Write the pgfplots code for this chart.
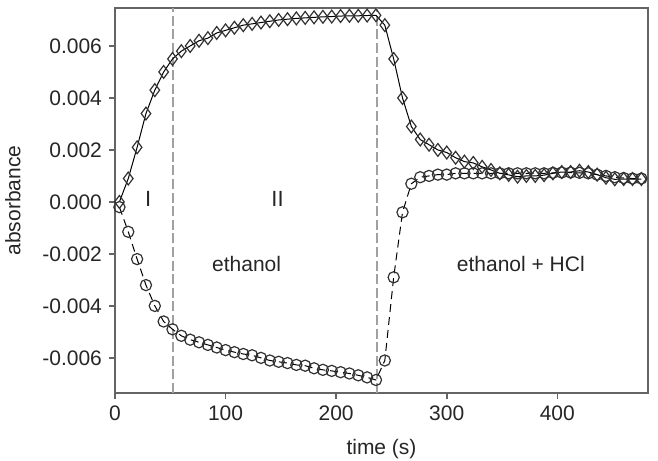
\documentclass[border=0pt]{standalone}
\usepackage{pgfplots}
\pgfplotsset{compat=1.18}
\usepackage{fontspec}
\setmainfont{Liberation Sans}
\definecolor{axgray}{RGB}{100,100,100}
\definecolor{vgray}{RGB}{160,160,160}
\definecolor{mk}{RGB}{50,50,50}
\begin{document}
\begin{tikzpicture}
\begin{axis}[
  width=266.5pt, height=192.5pt, scale only axis,
  xmin=0, xmax=482, ymin=-0.00735, ymax=0.00746,
  xtick={0,100,200,300,400},
  ytick={-0.006,-0.004,-0.002,0,0.002,0.004,0.006},
  scaled y ticks=false,
  yticklabel style={/pgf/number format/.cd, fixed, fixed zerofill, precision=3, assume math mode=true},
  xticklabel style={/pgf/number format/assume math mode=true},
  tick align=outside, tick pos=left,
  major tick length=3pt,
  axis line style={axgray, line width=0.8pt},
  tick style={axgray, line width=0.8pt},
  ticklabel style={font=\fontsize{10.5}{12}\selectfont, text=black!85},
  xlabel={time (s)}, ylabel={absorbance},
  label style={font=\fontsize{10.5}{12}\selectfont, text=black!85},
  xlabel style={yshift=-2.5pt},
  ylabel style={yshift=4pt},
  clip=false,
]
\addplot[vgray, line width=1pt, dash pattern=on 5pt off 1.8pt] coordinates {(52.3,-0.00735) (52.3,0.00746)};
\addplot[vgray, line width=1pt, dash pattern=on 5pt off 1.8pt] coordinates {(237,-0.00735) (237,0.00746)};
\addplot[black, line width=0.5pt, mark=diamond, mark size=3.2pt, mark options={solid, fill=none, draw=mk, line width=0.6pt}] coordinates {
(4,0.0000) (12,0.0009) (20,0.0021) (28,0.0034) (36,0.0043) (44,0.0050) (52,0.0055)
(60,0.0058) (68,0.0060) (76,0.0062) (84,0.0063) (92,0.0065) (100,0.0066) (108,0.0067)
(116,0.0068) (124,0.00685) (132,0.0069) (140,0.00695) (148,0.0070) (156,0.00703)
(164,0.00706) (172,0.00708) (180,0.0071) (188,0.00712) (196,0.00713) (204,0.00715)
(212,0.00716) (220,0.00716) (228,0.00717) (236,0.00718) (244,0.0068) (252,0.0055)
(260,0.0040) (268,0.0029) (276,0.0024) (284,0.0022) (292,0.0020) (300,0.0019)
(308,0.0017) (316,0.00155) (324,0.0015) (332,0.00135) (340,0.00123) (348,0.0011)
(356,0.00104) (364,0.00097) (372,0.0010) (380,0.0010) (388,0.00103) (396,0.0011)
(404,0.00115) (412,0.00115) (420,0.0012) (428,0.00115) (436,0.00105) (444,0.00093)
(452,0.00087) (460,0.00088) (468,0.00088) (476,0.00088)
};
\addplot[black, line width=0.5pt, dash pattern=on 4pt off 2.5pt, mark=o, mark size=2.8pt, mark options={solid, fill=none, draw=mk, line width=0.6pt}] coordinates {
(4,-0.0002) (12,-0.00115) (20,-0.0022) (28,-0.0032) (36,-0.0040) (44,-0.0046) (52,-0.0049)
(60,-0.00515) (68,-0.0053) (76,-0.0054) (84,-0.0055) (92,-0.0056) (100,-0.0057)
(108,-0.00578) (116,-0.00585) (124,-0.0059) (132,-0.0060) (140,-0.0061) (148,-0.00615)
(156,-0.0062) (164,-0.00627) (172,-0.0063) (180,-0.0064) (188,-0.00646) (196,-0.0065)
(204,-0.00655) (212,-0.0066) (220,-0.00667) (228,-0.00675) (236,-0.00685)
(244,-0.0061) (252,-0.0029) (260,-0.0004) (268,0.0007) (276,0.00095) (284,0.0010)
(292,0.00105) (300,0.00105) (308,0.0011) (316,0.0011) (324,0.0011) (332,0.0011)
(340,0.0011) (348,0.0011) (356,0.0011) (364,0.0011) (372,0.0011) (380,0.0011)
(388,0.0011) (396,0.00112) (404,0.00113) (412,0.00113) (420,0.00112) (428,0.0011)
(436,0.00105) (444,0.001) (452,0.00095) (460,0.00092) (468,0.0009) (476,0.0009)
};
\node[font=\fontsize{11}{13}\selectfont, text=black!85] at (axis cs:30,0.0001) {I};
\node[font=\fontsize{11}{13}\selectfont, text=black!85] at (axis cs:147,0.0001) {II};
\node[font=\fontsize{10.5}{12}\selectfont, text=black!85] at (axis cs:119,-0.0024) {ethanol};
\node[font=\fontsize{10.5}{12}\selectfont, text=black!85] at (axis cs:367,-0.0024) {ethanol + HCl};
\end{axis}
\pgfresetboundingbox
\path[use as bounding box] ([xshift=-57.5pt,yshift=-34pt]current axis.south west) rectangle ([xshift=5pt,yshift=4pt]current axis.north east);
\end{tikzpicture}
\end{document}
